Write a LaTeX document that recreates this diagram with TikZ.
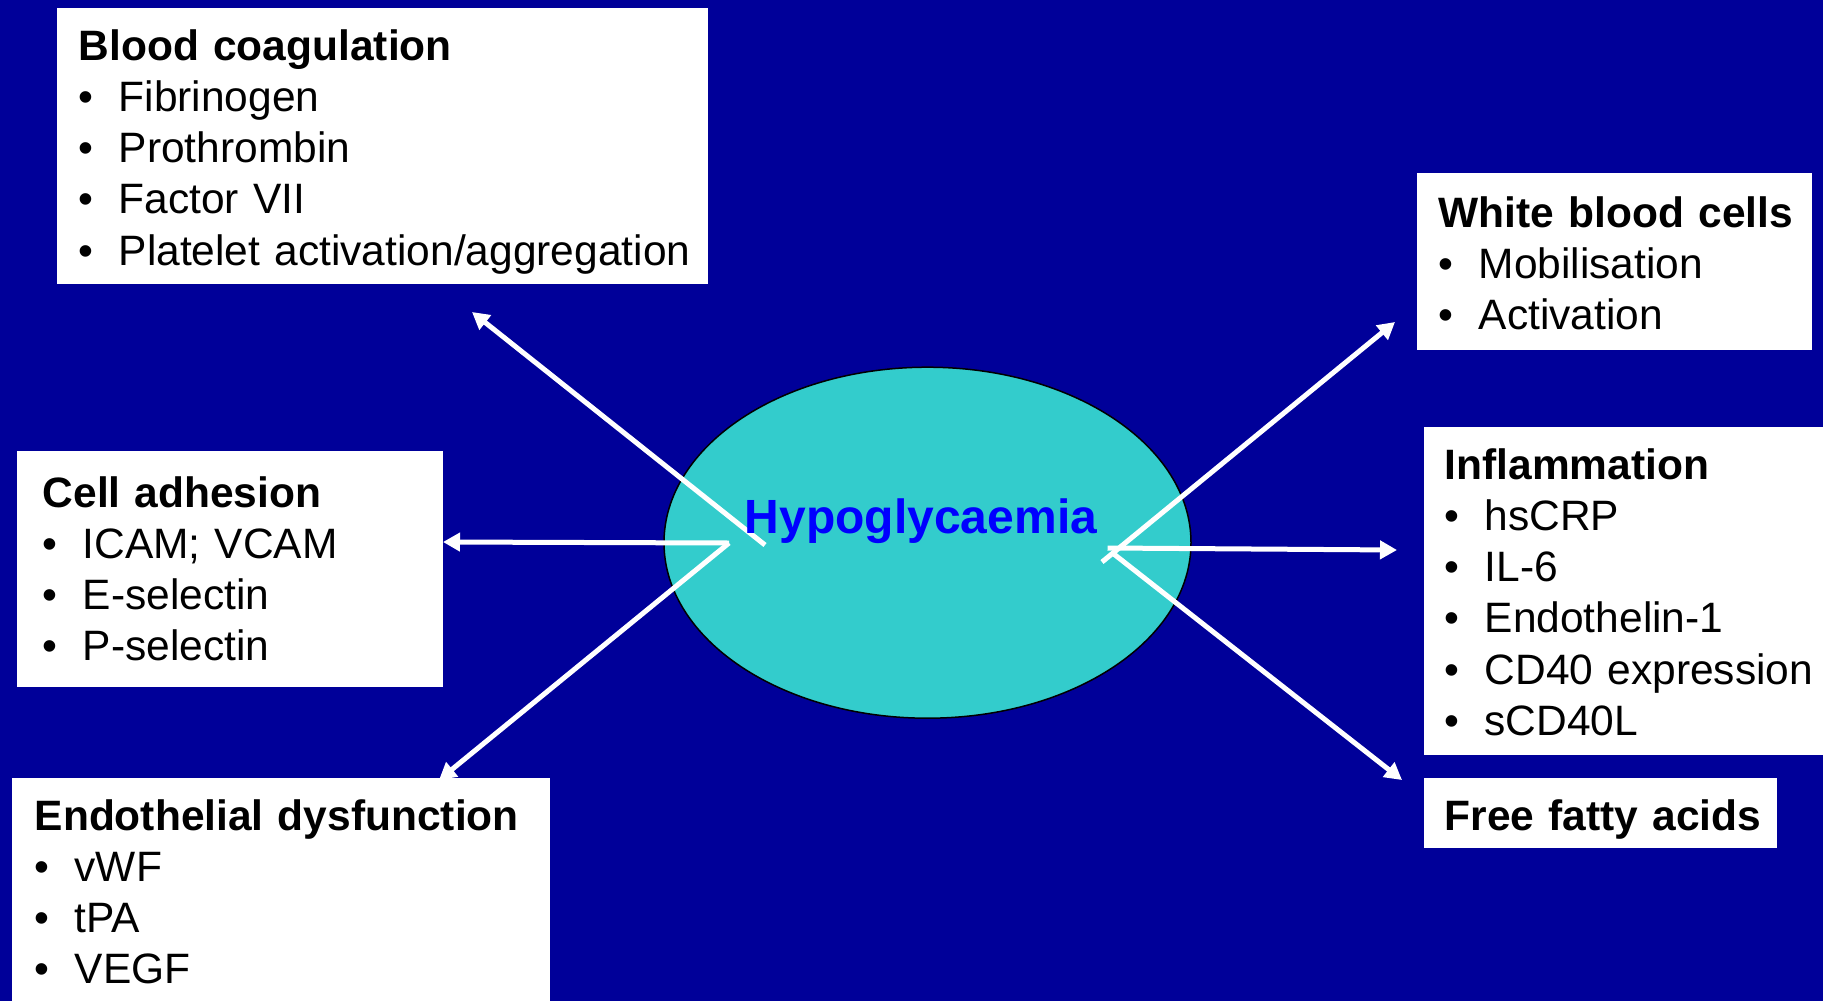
\documentclass[tikz,border=0pt]{standalone}
\usepackage{fontspec}
\setmainfont{Liberation Sans}
\usetikzlibrary{arrows.meta,shapes.geometric,calc}
\definecolor{bgblue}{HTML}{000099}
\definecolor{ellfill}{HTML}{33CCCC}
\definecolor{hypoblue}{HTML}{0000FF}
\newcommand\firstline[3]{\hspace*{#1}\rule{0pt}{#2}\textbf{#3}}
\newcommand\bitem[2]{\hspace*{#1}\makebox[40pt][l]{\textbullet}#2}
\newcommand\lastdepth[1]{\rule[-#1]{0pt}{#1}}
\tikzset{
  infobox/.style={fill=white, inner sep=0pt, anchor=north west, align=left,
    font=\fontsize{42.5}{51.2}\selectfont},
  arr/.style={draw=white, line width=5pt, -{Triangle[length=17pt,width=18pt]}},
}
\begin{document}
\begin{tikzpicture}[x=1pt,y=1pt]
\fill[bgblue] (0,0) rectangle (1823,-1001);
\useasboundingbox (0,0) rectangle (1823,-1001);

% central ellipse
\node[ellipse, draw=black, line width=1.5pt, fill=ellfill, minimum width=527pt,
  minimum height=351pt, inner sep=0pt] (hypo) at (927.5,-542.7) {};

% boxes
\node[infobox, text width=651pt] (bc) at (57,-8) {%
  \firstline{21.5pt}{52pt}{Blood coagulation}\\
  \bitem{21.5pt}{Fibrinogen}\\
  \bitem{21.5pt}{Prothrombin}\\
  \bitem{21.5pt}{Factor VII}\\
  \bitem{21.5pt}{Platelet activation/aggregation}\lastdepth{19pt}};

\node[infobox, text width=395pt] (wbc) at (1417,-173) {%
  \firstline{21.5pt}{54pt}{White blood cells}\\
  \bitem{21.5pt}{Mobilisation}\\
  \bitem{21.5pt}{Activation}\lastdepth{20.6pt}};

\node[infobox, text width=410pt] (inf) at (1424,-427) {%
  \firstline{20.5pt}{52pt}{Inflammation}\\
  \bitem{20.5pt}{hsCRP}\\
  \bitem{20.5pt}{IL-6}\\
  \bitem{20.5pt}{Endothelin-1}\\
  \bitem{20.5pt}{CD40 expression}\\
  \bitem{20.5pt}{sCD40L}\lastdepth{20pt}};

\node[infobox, text width=353pt] (ffa) at (1424,-778) {%
  \firstline{20.5pt}{52pt}{Free fatty acids}\lastdepth{18pt}};

\node[infobox, text width=426pt] (ca) at (17,-451) {%
  \firstline{25.5pt}{56pt}{Cell adhesion}\\
  \bitem{25.5pt}{ICAM; VCAM}\\
  \bitem{25.5pt}{E-selectin}\\
  \bitem{25.5pt}{P-selectin}\lastdepth{26.4pt}};

\node[infobox, text width=538pt] (ed) at (12,-778) {%
  \firstline{22.5pt}{52pt}{Endothelial dysfunction}\\
  \bitem{22.5pt}{vWF}\\
  \bitem{22.5pt}{tPA}\\
  \bitem{22.5pt}{VEGF}\lastdepth{30pt}};

% arrow end points
\coordinate (sBC)  at ($(hypo.center)+(-162.5,-2.3)$);
\coordinate (sL)   at ($(hypo.center)+(-198.5,-0.3)$);
\coordinate (sWBC) at ($(hypo.center)+(174.5,-19.3)$);
\coordinate (sINF) at ($(hypo.center)+(180,-5.3)$);
\coordinate (sFFA) at ($(hypo.center)+(185,-10.3)$);
\coordinate (tBC)  at (472,-312);
\coordinate (tCA)  at (443,-542);
\coordinate (tED)  at (439,-780);
\coordinate (tWBC) at (1395,-322);
\coordinate (tINF) at (1397,-550);
\coordinate (tFFA) at (1402,-780);

\draw[arr] (sBC) -- (tBC);
\draw[arr] (sL) -- (tCA);
\draw[arr] (sL) -- (tED);
\draw[arr] (sWBC) -- (tWBC);
\draw[arr] (sINF) -- (tINF);
\draw[arr] (sFFA) -- (tFFA);

\node[anchor=base, inner sep=0pt, text=hypoblue, font=\fontsize{48}{56}\selectfont\bfseries]
  (hypotext) at (921,-533) {Hypoglycaemia};
\end{tikzpicture}
\end{document}
